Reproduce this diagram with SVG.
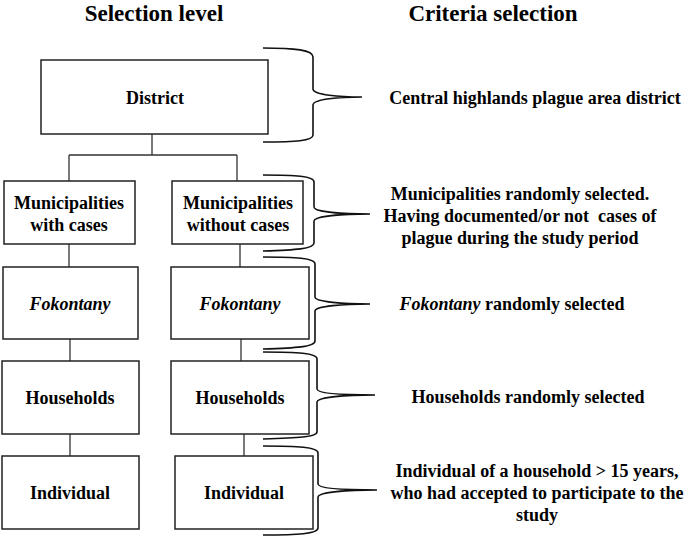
<svg xmlns="http://www.w3.org/2000/svg" width="685" height="537" viewBox="0 0 685 537">
<style>
.t{font-family:'Liberation Serif','Times New Roman',Tinos,'DejaVu Serif',serif;font-weight:700;fill:#000;text-anchor:middle}
.h{font-size:23px}
.b{font-size:18px}
.i{font-style:italic}
.box{fill:#fff;stroke:#222;stroke-width:1.5}
.ln{fill:none;stroke:#333;stroke-width:1.3}
.br{fill:none;stroke:#111;stroke-width:1.6}
</style>
<rect width="685" height="537" fill="#fff"/>
<text class="t h" x="154" y="21">Selection level</text>
<text class="t h" x="493" y="21">Criteria selection</text>
<g id="connectors">
<path class="ln" d="M152,134 V155 M69,155 H237 M69,155 V181 M237,155 V181"/>
<path class="ln" d="M69,244 V267 M240,244 V267"/>
<path class="ln" d="M70,339 V361 M241,339 V361"/>
<path class="ln" d="M70,434 V456 M244,434 V456"/>
</g>
<g id="district"><rect class="box" x="41" y="60" width="227" height="74"/><text class="t b" x="155" y="104">District</text></g>
<g id="mun-with"><rect class="box" x="4" y="181" width="131" height="63"/><text class="t b" x="69" y="209">Municipalities</text><text class="t b" x="69" y="231">with cases</text></g>
<g id="mun-without"><rect class="box" x="172" y="181" width="131" height="63"/><text class="t b" x="238" y="209">Municipalities</text><text class="t b" x="238" y="231">without cases</text></g>
<g id="fok-left"><rect class="box" x="3" y="267" width="135" height="72"/><text class="t b i" x="70" y="310">Fokontany</text></g>
<g id="fok-right"><rect class="box" x="171" y="267" width="138" height="72"/><text class="t b i" x="240" y="310">Fokontany</text></g>
<g id="hh-left"><rect class="box" x="2" y="361" width="137" height="73"/><text class="t b" x="70" y="404">Households</text></g>
<g id="hh-right"><rect class="box" x="171" y="361" width="138" height="73"/><text class="t b" x="240" y="404">Households</text></g>
<g id="ind-left"><rect class="box" x="2" y="456" width="137" height="73"/><text class="t b" x="70" y="499">Individual</text></g>
<g id="ind-right"><rect class="box" x="175" y="456" width="138" height="73"/><text class="t b" x="244" y="499">Individual</text></g>
<g id="brackets">
<path class="br" d="M263,48 C295,48 313,50 313,57 L313,89 C313,95 340,97 362,97 C340,97 313,99 313,105 L313,135 C313,141 295,142 263,142"/>
<path class="br" d="M263,175 C295,175 314,176 314,182 L314,207 C314,212 343,214 370,214 C343,214 314,216 314,221 L314,243 C314,249 295,250 263,251"/>
<path class="br" d="M263,257 C295,257 315,258 315,264 L315,297 C315,302 344,304 370,304 C344,304 315,306 315,311 L315,341 C315,347 295,348 263,349"/>
<path class="br" d="M263,352 C297,352 317,353 317,359 L317,389 C317,394 346,395 375,395 C346,395 317,397 317,402 L317,432 C317,437 297,438 263,439"/>
<path class="br" d="M263,446 C297,446 318,447 318,453 L318,484 C318,489 348,490 377,490 C348,490 318,492 318,497 L318,528 C318,534 297,535 263,535"/>
</g>
<g id="criteria">
<text class="t b" x="535" y="104">Central highlands plague area district</text>
<text class="t b" x="520" y="200">Municipalities randomly selected.</text>
<text class="t b" x="520" y="222" xml:space="preserve">Having documented/or not  cases of</text>
<text class="t b" x="520" y="244">plague during the study period</text>
<text class="t b" x="512" y="310"><tspan class="i">Fokontany</tspan> randomly selected</text>
<text class="t b" x="528" y="403">Households randomly selected</text>
<text class="t b" x="537" y="477">Individual of a household &gt; 15 years,</text>
<text class="t b" x="537" y="499">who had accepted to participate to the</text>
<text class="t b" x="537" y="521">study</text>
</g>
</svg>
